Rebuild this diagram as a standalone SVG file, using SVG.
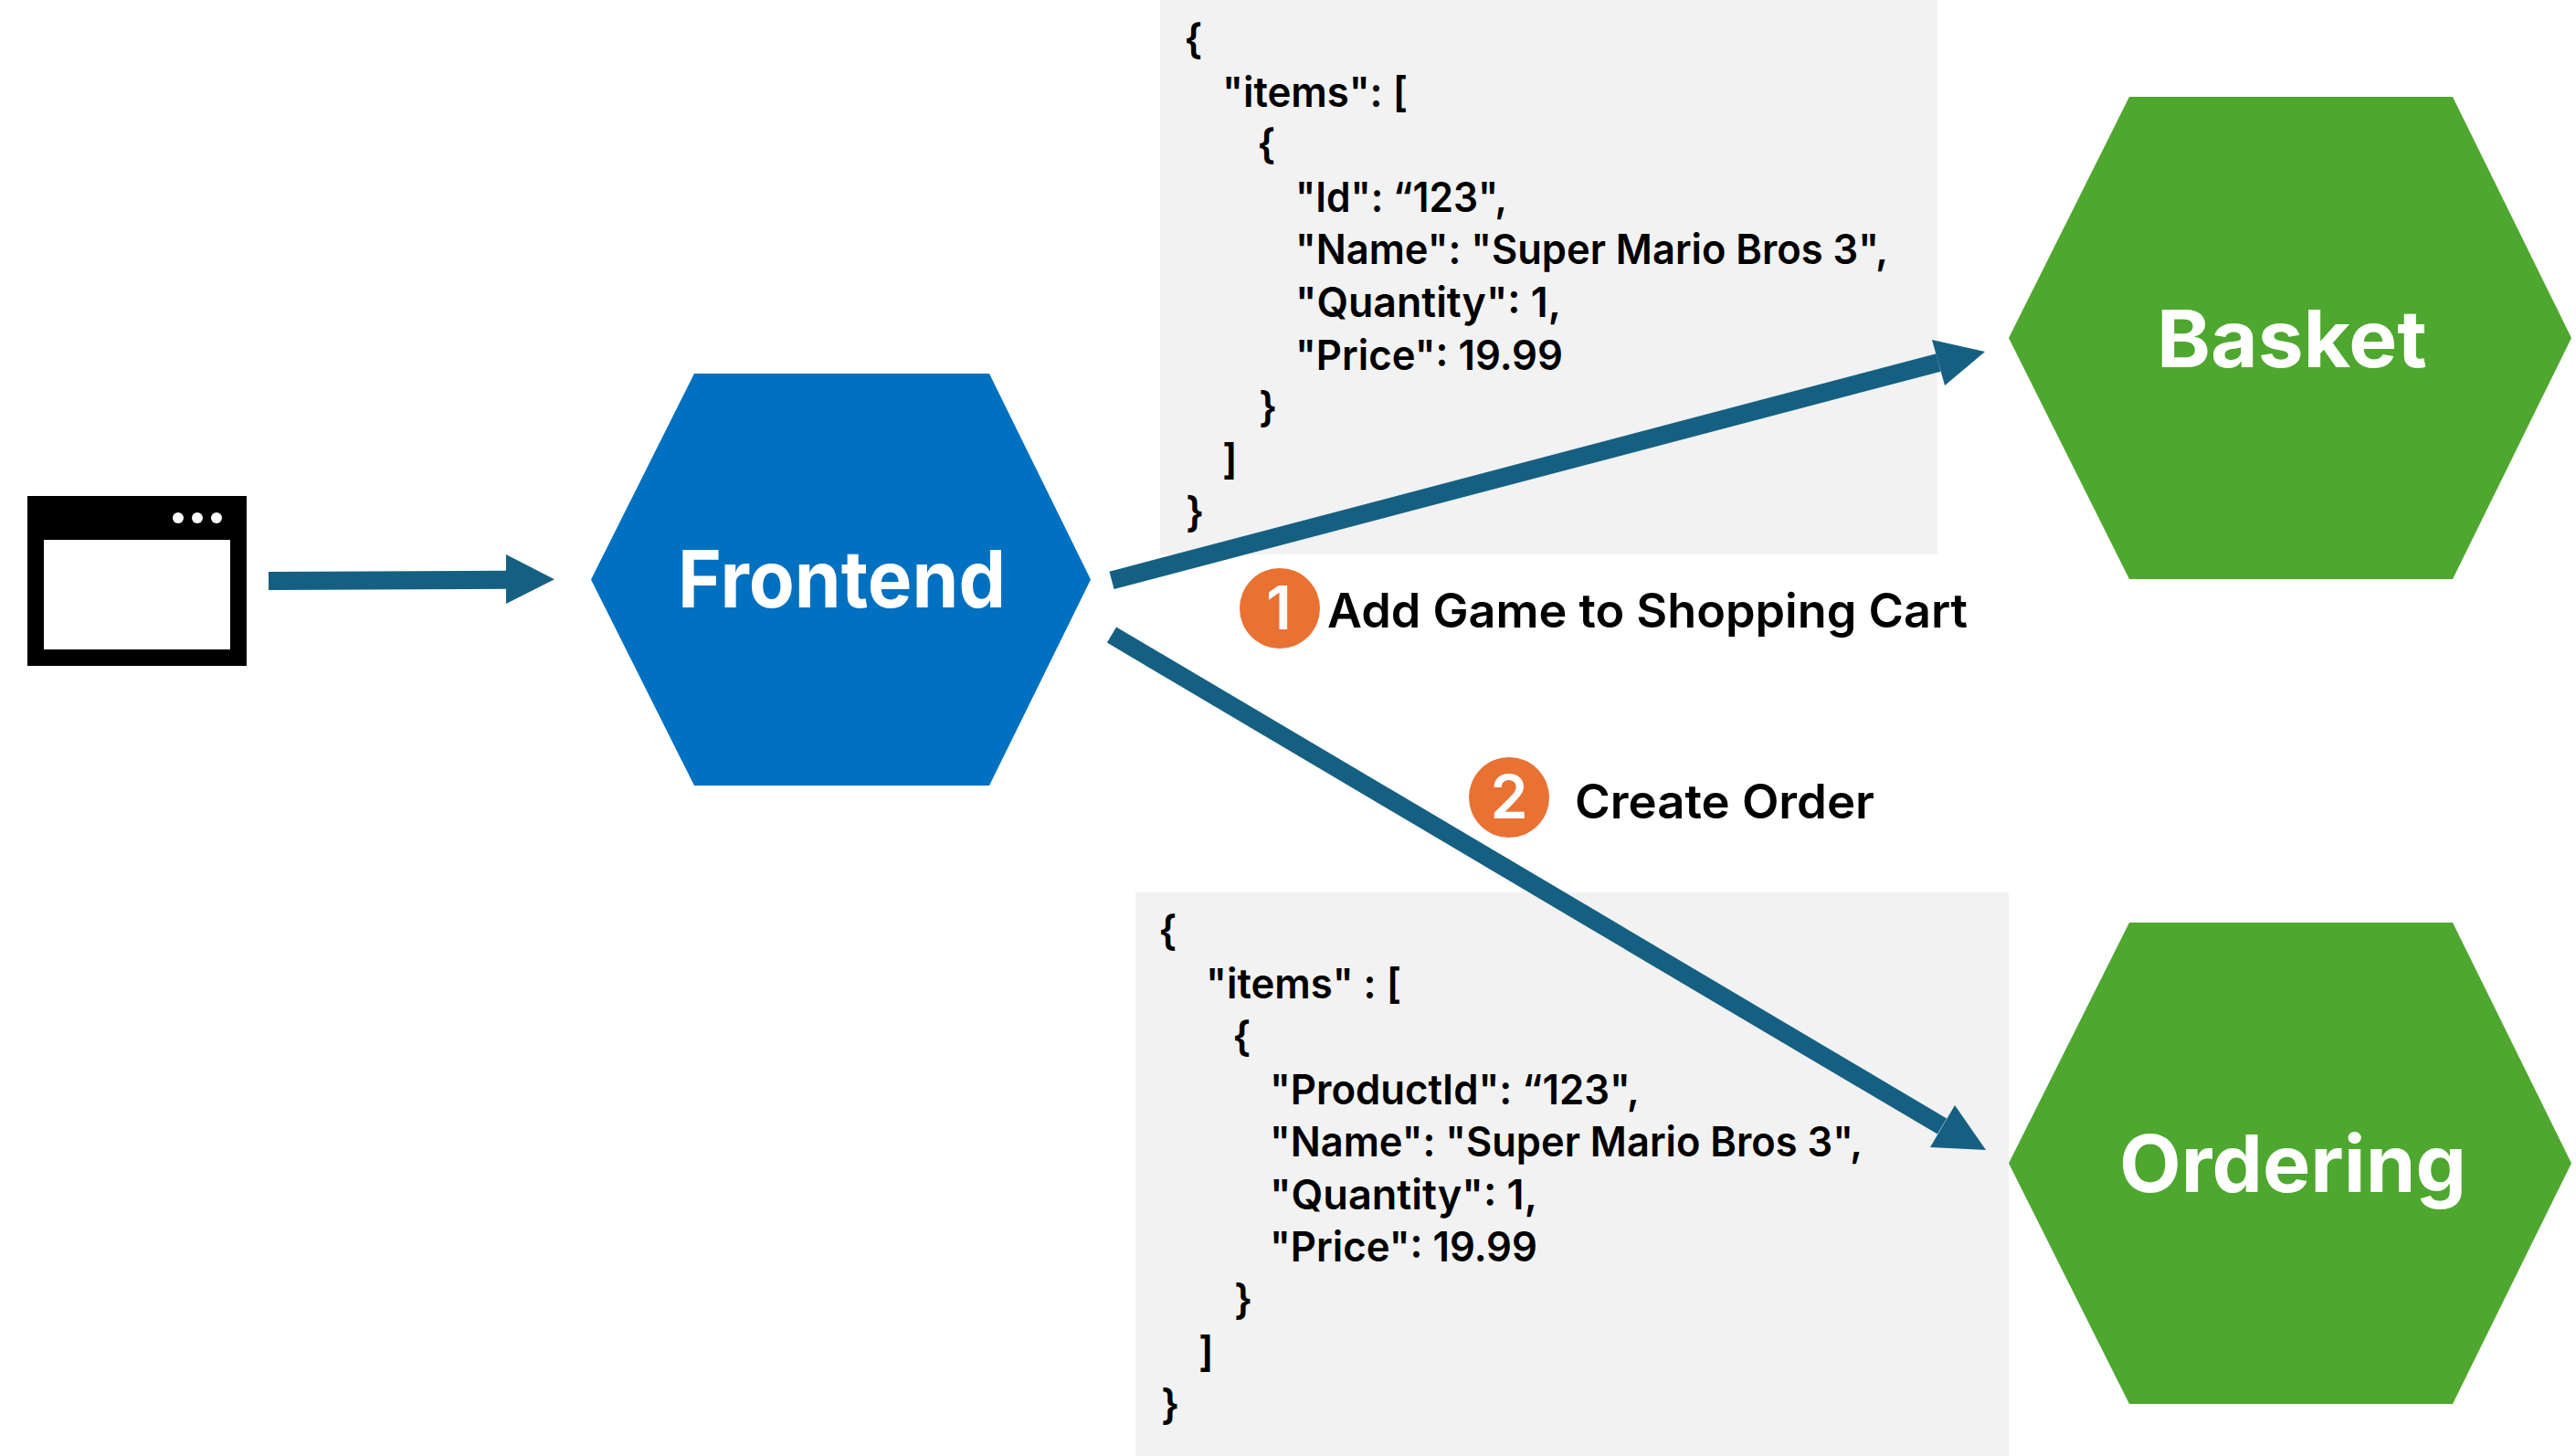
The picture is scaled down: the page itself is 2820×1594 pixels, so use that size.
<svg xmlns="http://www.w3.org/2000/svg" width="2820" height="1594" viewBox="0 0 2820 1594">
<style>
text{font-family:Inter,"Noto Sans","Liberation Sans",sans-serif;font-weight:600}
.c{font-size:45px;fill:#000}
.l{font-size:52px;fill:#000}
.h{font-size:87px;font-weight:700;fill:#fff}
.d{font-size:66px;fill:#fff;text-anchor:middle}
.box{fill:#f2f2f2}
.o{fill:#e97132}
.b{fill:#0070c0}
.g{fill:#4ea72e}
.a{fill:none;stroke:#156082;stroke-width:20}
.ah{fill:#156082}
</style>
<rect width="2820" height="1594" fill="#fff"/>
<g id="basket-payload">
<rect class="box" x="1270" y="0" width="851" height="607"/>
<text class="c" x="1296" y="59">{</text>
<text class="c" x="1338" y="117" textLength="203" lengthAdjust="spacingAndGlyphs">"items": [</text>
<text class="c" x="1376" y="174">{</text>
<text class="c" x="1418" y="232" textLength="232" lengthAdjust="spacingAndGlyphs">"Id": “123",</text>
<text class="c" x="1418" y="289" textLength="649" lengthAdjust="spacingAndGlyphs">"Name": "Super Mario Bros 3",</text>
<text class="c" x="1418" y="347" textLength="291" lengthAdjust="spacingAndGlyphs">"Quantity": 1,</text>
<text class="c" x="1418" y="405" textLength="293" lengthAdjust="spacingAndGlyphs">"Price": 19.99</text>
<text class="c" x="1378" y="462">}</text>
<text class="c" x="1338" y="519">]</text>
<text class="c" x="1298" y="577">}</text>
</g>
<g id="ordering-payload">
<rect class="box" x="1243" y="977" width="956" height="617"/>
<text class="c" x="1268" y="1035">{</text>
<text class="c" x="1320" y="1093" textLength="214" lengthAdjust="spacingAndGlyphs">"items" : [</text>
<text class="c" x="1349" y="1151">{</text>
<text class="c" x="1390" y="1209" textLength="405" lengthAdjust="spacingAndGlyphs">"ProductId": “123",</text>
<text class="c" x="1390" y="1266" textLength="649" lengthAdjust="spacingAndGlyphs">"Name": "Super Mario Bros 3",</text>
<text class="c" x="1390" y="1324" textLength="293" lengthAdjust="spacingAndGlyphs">"Quantity": 1,</text>
<text class="c" x="1390" y="1381" textLength="293" lengthAdjust="spacingAndGlyphs">"Price": 19.99</text>
<text class="c" x="1351" y="1439">}</text>
<text class="c" x="1312" y="1496">]</text>
<text class="c" x="1271" y="1554">}</text>
</g>
<g id="browser">
<rect x="30" y="543" width="240" height="186" fill="#000"/>
<rect x="48" y="591" width="204" height="120" fill="#fff"/>
<circle cx="195" cy="567" r="6" fill="#fff"/>
<circle cx="216" cy="567" r="6" fill="#fff"/>
<circle cx="237" cy="567" r="6" fill="#fff"/>
</g>
<g id="frontend">
<polygon class="b" points="647,634.5 760,409 1083,409 1194,634.5 1083,860 760,860"/>
<text class="h" x="742" y="665" textLength="359" lengthAdjust="spacingAndGlyphs">Frontend</text>
</g>
<g id="basket">
<polygon class="g" points="2199,370 2331,106 2685,106 2815,370 2685,634 2331,634"/>
<text class="h" x="2361" y="402" textLength="296" lengthAdjust="spacingAndGlyphs">Basket</text>
</g>
<g id="ordering">
<polygon class="g" points="2199,1273.5 2331,1010 2685,1010 2815,1273.5 2685,1537 2331,1537"/>
<text class="h" x="2320" y="1305" textLength="380" lengthAdjust="spacingAndGlyphs">Ordering</text>
</g>
<g id="connectors">
<path class="a" d="M294 636L556 634.7"/>
<polygon class="ah" points="607,634.3 554,607 554,661"/>
<path class="a" d="M1217 635.4L2122 397"/>
<polygon class="ah" points="2173,385 2115,372 2129,422"/>
<path class="a" d="M1217 695L2126 1233"/>
<polygon class="ah" points="2174,1259 2140,1210 2113,1256"/>
</g>
<g id="step-1">
<circle class="o" cx="1401" cy="666" r="44"/>
<text class="d" x="1400" y="689">1</text>
<text class="l" x="1453" y="687" textLength="701" lengthAdjust="spacingAndGlyphs">Add Game to Shopping Cart</text>
</g>
<g id="step-2">
<circle class="o" cx="1652" cy="873" r="44"/>
<text class="d" x="1652" y="896">2</text>
<text class="l" x="1724" y="896" textLength="328" lengthAdjust="spacingAndGlyphs">Create Order</text>
</g>
</svg>
